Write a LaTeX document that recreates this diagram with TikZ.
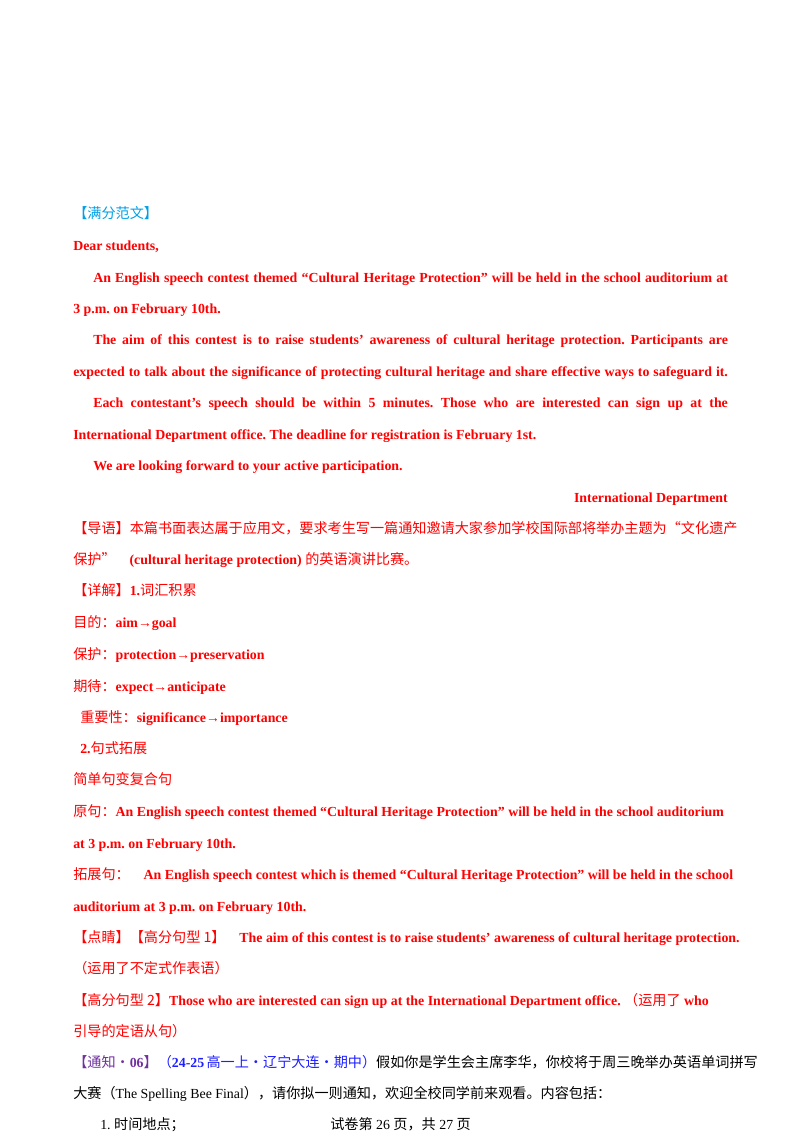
\documentclass[tikz,border=0pt]{standalone}
\usepackage{fontspec}
\setmainfont{Liberation Serif}
\newfontfamily\cjk{Noto Sans CJK SC}
\definecolor{rd}{RGB}{255,0,0}
\definecolor{cy}{RGB}{0,160,230}
\definecolor{pu}{RGB}{112,48,160}
\definecolor{bl}{RGB}{30,30,255}
\newcommand\C[1]{{\cjk\fontsize{10.6}{12}\selectfont #1}}
\newcommand\E[1]{{\bfseries #1}}
\newcommand\J[2]{\makebox[#1pt][s]{#2}}
\frenchspacing
\begin{document}
\begin{tikzpicture}[x=0.75pt,y=-0.75pt,t/.style={anchor=base west,inner sep=0,font=\fontsize{10.4}{12}\selectfont\frenchspacing},r/.style={t,text=rd}]
\useasboundingbox (0,0) rectangle (800,1132);
\node[t,text=cy] (h) at (73,218) {\C{【满分范文】}};
\node[r] (l1) at (73,250) {\E{Dear students,}};
\node[r] (l2) at (93,282) {\E{\J{476}{An English speech contest themed “Cultural Heritage Protection” will be held in the school auditorium at}}};
\node[r] (l3) at (73,313) {\E{3 p.m. on February 10th.}};
\node[r] (l4) at (93,344) {\E{\J{476}{The aim of this contest is to raise students’ awareness of cultural heritage protection. Participants are}}};
\node[r] (l5) at (73,376) {\E{\J{491}{expected to talk about the significance of protecting cultural heritage and share effective ways to safeguard it.}}};
\node[r] (l6) at (93,407) {\E{\J{476}{Each contestant’s speech should be within 5 minutes. Those who are interested can sign up at the}}};
\node[r] (l7) at (73,439) {\E{International Department office. The deadline for registration is February 1st.}};
\node[r] (l8) at (93,470) {\E{We are looking forward to your active participation.}};
\node[r,anchor=base east] (l9) at (728,502) {\E{International Department}};
\node[r] (d1) at (73,533) {\C{【导语】本篇书面表达属于应用文，要求考生写一篇通知邀请大家参加学校国际部将举办主题为“文化遗产}};
\node[r] (d2) at (73,564) {\C{保护”}\quad\E{(cultural heritage protection)}\ \C{的英语演讲比赛。}};
\node[r] (x1) at (73,595) {\C{【详解】}\E{1.}\C{词汇积累}};
\node[r] (x2) at (73,627) {\C{目的：}\E{aim→goal}};
\node[r] (x3) at (73,659) {\C{保护：}\E{protection→preservation}};
\node[r] (x4) at (73,691) {\C{期待：}\E{expect→anticipate}};
\node[r] (x5) at (80,722) {\C{重要性：}\E{significance→importance}};
\node[r] (x6) at (80,753) {\E{2.}\C{句式拓展}};
\node[r] (x7) at (73,784) {\C{简单句变复合句}};
\node[r] (y1) at (73,816) {\C{原句：}\E{An English speech contest themed “Cultural Heritage Protection” will be held in the school auditorium}};
\node[r] (y2) at (73,848) {\E{at 3 p.m. on February 10th.}};
\node[r] (y3) at (73,879) {\C{拓展句：}\quad\E{An English speech contest which is themed “Cultural Heritage Protection” will be held in the school}};
\node[r] (y4) at (73,911) {\E{auditorium at 3 p.m. on February 10th.}};
\node[r] (z1) at (73,942) {\C{【点睛】【高分句型\ 1】}\quad\E{The aim of this contest is to raise students’ awareness of cultural heritage protection.}};
\node[r] (z2) at (73,973) {\C{（运用了不定式作表语）}};
\node[r] (z3) at (73,1005) {\C{【高分句型\ 2】}\E{Those who are interested can sign up at the International Department office.}\ \C{（运用了}\ \E{who}};
\node[r] (z4) at (73,1036) {\C{引导的定语从句）}};
\node[t] (w1) at (73,1067) {\textcolor{pu}{\C{【通知·}\E{06}\C{】}}\textcolor{bl}{\C{（}\E{24-25}\,\C{高一上·辽宁大连·期中）}}\C{假如你是学生会主席李华，你校将于周三晚举办英语单词拼写}};
\node[t] (w2) at (73,1098) {\C{大赛（}The Spelling Bee Final\C{），请你拟一则通知，欢迎全校同学前来观看。内容包括：}};
\node[t] (w3) at (100,1129) {1. \C{时间地点；}};
\node[t] (pg) at (330,1129) {\C{试卷第}\ 26\ \C{页，共}\ 27\ \C{页}};
\end{tikzpicture}
\end{document}
